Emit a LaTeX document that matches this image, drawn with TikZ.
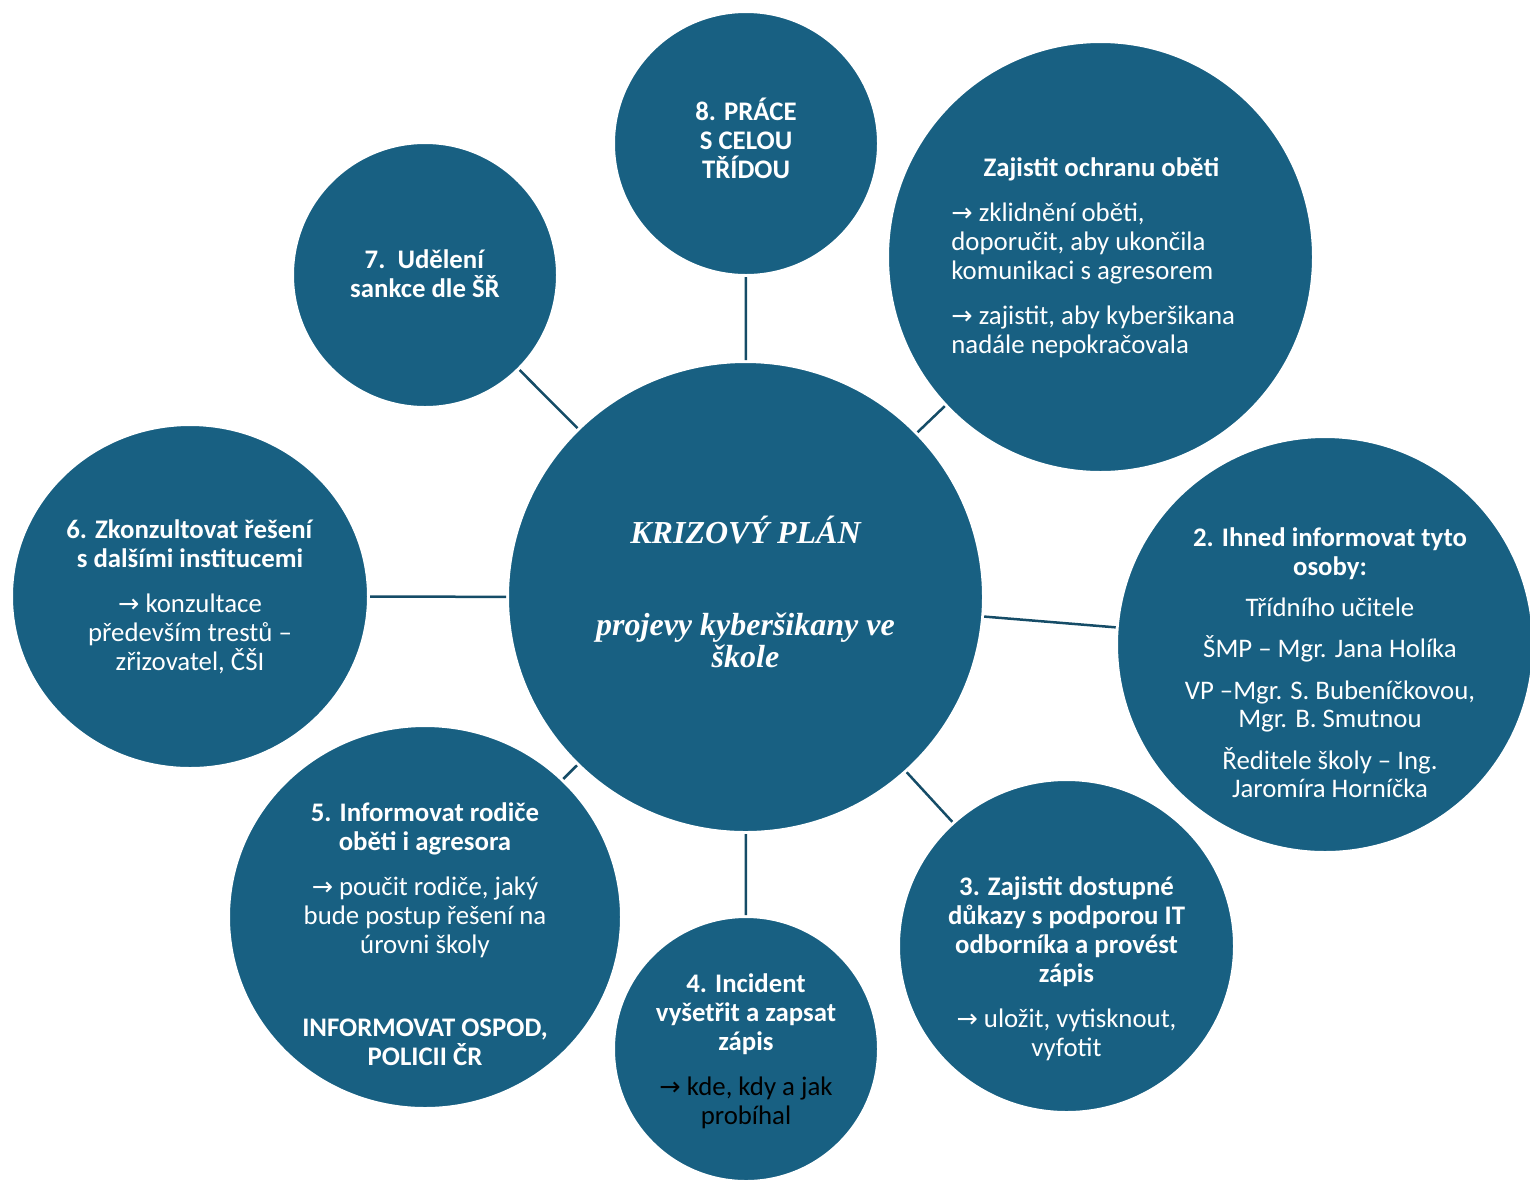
\documentclass[tikz,border=0pt]{standalone}
\usepackage{fontspec}
\setmainfont{Carlito}
\newfontfamily\titlefont{Liberation Serif}
\newfontfamily\arrowfont{DejaVu Sans}[Scale=0.95]
\usetikzlibrary{shapes.geometric}
\definecolor{bub}{RGB}{24,96,130}
\definecolor{conn}{RGB}{21,76,103}
\newcommand\rarr{{\arrowfont →}}
\begin{document}
\begin{tikzpicture}[x=0.5pt,y=-0.5pt,
  bubble/.style={ellipse, fill=bub, draw=white, line width=1pt, inner sep=0pt},
  txt/.style={text=white, text width=220pt, align=flush center, inner sep=0pt, anchor=base, font=\fontsize{13.4}{14.5}\selectfont},
  link/.style={draw=conn, line width=1.25pt, shorten <=0.5pt, shorten >=0.5pt}]
\useasboundingbox (0,0) rectangle (1530,1179);
\clip (0,0) rectangle (1530,1179);

% bubbles
\node[bubble, minimum width=237.5pt, minimum height=235pt] (centre) at (745.5,597) {};
\node[bubble, minimum width=132pt, minimum height=131.5pt] (c8) at (746,143.5) {};
\node[bubble, minimum width=212.5pt, minimum height=215pt] (c1) at (1100.5,257) {};
\node[bubble, minimum width=132pt, minimum height=132pt] (c7) at (425,275) {};
\node[bubble, minimum width=178pt, minimum height=171.5pt] (c6) at (190,596.5) {};
\node[bubble, minimum width=208pt, minimum height=207.5pt] (c2) at (1325,644.5) {};
\node[bubble, minimum width=167.5pt, minimum height=166pt] (c3) at (1066.5,946) {};
\node[bubble, minimum width=132pt, minimum height=132pt] (c4) at (746,1049) {};
\node[bubble, minimum width=196pt, minimum height=191pt] (c5) at (425,917) {};

% connectors
\draw[link] (centre) -- (c8);
\draw[link] (centre) -- (c1);
\draw[link] (centre) -- (c2);
\draw[link] (centre) -- (c3);
\draw[link] (centre) -- (c4);
\draw[link] (centre) -- (c5);
\draw[link] (centre) -- (c6);
\draw[link] (centre) -- (c7);

% texts
\node[txt, text width=240pt, font=\titlefont\bfseries\itshape\fontsize{16}{16}\selectfont] (tcentre) at (745.5,543)
  {KRIZOVÝ PLÁN\\[30pt]projevy kyberšikany ve\\škole};

\node[txt] (t8) at (746,120)
  {\textbf{8. PRÁCE}\\\textbf{S CELOU}\\\textbf{TŘÍDOU}};

\node[txt, align=flush left, text width=150pt, anchor=base west] (t1) at (951,176.7)
  {\makebox[\linewidth]{\bfseries Zajistit ochranu oběti}\\[8pt]
   \rarr{} zklidnění oběti,\\doporučit, aby ukončila\\komunikaci s agresorem\\[8pt]
   \rarr{} zajistit, aby kyberšikana\\nadále nepokračovala};

\node[txt] (t7) at (425,268.3)
  {\textbf{7.\ \ Udělení}\\\textbf{sankce dle ŠŘ}};

\node[txt] (t6) at (190,538.3)
  {\textbf{6. Zkonzultovat řešení}\\\textbf{s dalšími institucemi}\\[8pt]
   \rarr{} konzultace\\především trestů –\\zřizovatel, ČŠI};

\node[txt, font=\fontsize{13.4}{14.2}\selectfont] (t2) at (1330,546.7)
  {\textbf{2. Ihned informovat tyto}\\\textbf{osoby:}\\[6.5pt]
   Třídního učitele\\[6.5pt]
   ŠMP – Mgr. Jana Holíka\\[6.5pt]
   VP –Mgr. S. Bubeníčkovou,\\Mgr. B. Smutnou\\[6.5pt]
   Ředitele školy – Ing.\\Jaromíra Horníčka};

\node[txt] (t3) at (1066.5,895)
  {\textbf{3. Zajistit dostupné}\\\textbf{důkazy s podporou IT}\\\textbf{odborníka a provést}\\\textbf{zápis}\\[8pt]
   \rarr{} uložit, vytisknout,\\vyfotit};

\node[txt] (t4) at (746,992)
  {\textbf{4. Incident}\\\textbf{vyšetřit a zapsat}\\\textbf{zápis}\\[8pt]
   \textcolor{black}{\rarr{} kde, kdy a jak}\\\textcolor{black}{probíhal}};

\node[txt] (t5) at (425,821.7)
  {\textbf{5. Informovat rodiče}\\\textbf{oběti i agresora}\\[8pt]
   \rarr{} poučit rodiče, jaký\\bude postup řešení na\\úrovni školy\\[27pt]
   \textbf{INFORMOVAT OSPOD,}\\\textbf{POLICII ČR}};
\end{tikzpicture}
\end{document}
